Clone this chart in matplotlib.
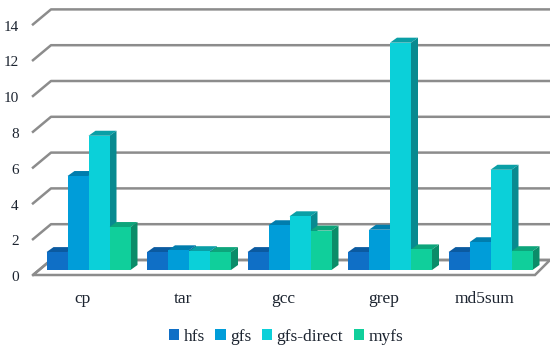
import matplotlib
matplotlib.use('Agg')
import matplotlib.pyplot as plt
from matplotlib.patches import Patch, Polygon

categories = ['cp', 'tar', 'gcc', 'grep', 'md5sum']
hfs = [1, 1, 1, 1, 1]
gfs = [5.25, 1.1, 2.5, 2.25, 1.55]
gfs_direct = [7.5, 1.05, 3.0, 12.7, 5.6]
myfs = [2.4, 1.0, 2.2, 1.15, 1.05]
y_ticks = [0, 2, 4, 6, 8, 10, 12, 14]

series = [('hfs', hfs, '#0F6FC6', '#0B5AA0', '#094A85'),
          ('gfs', gfs, '#009DD9', '#007DAD', '#006A93'),
          ('gfs-direct', gfs_direct, '#0BD0D9', '#0A9FA6', '#088A90'),
          ('myfs', myfs, '#10CF9B', '#0DA57B', '#0B8C69')]

plt.rcParams['font.family'] = ['Liberation Serif', 'DejaVu Serif']
text_color = '#1c2430'
grid_color = '#8c8c8c'

fig = plt.figure(figsize=(5.5, 3.49), dpi=100)
ax = fig.add_axes([0, 0, 1, 1])
# one unit on x is one group (100.5 px), one unit on y is 17.9 px
px_x = 100.5
px_y = 17.9
ax.set_xlim(-88.5 / px_x, (550 - 88.5) / px_x)
ax.set_ylim(-(349 - 270) / px_y, 270 / px_y)
ax.axis('off')

bar_w = 21 / px_x
depth_x = 7 / px_x
depth_y = 5 / px_y
# wall and floor offsets from the bar base line
back_x0 = (51 - 88.5) / px_x
back_x1 = (550 - 88.5) / px_x
front_x0 = (33 - 88.5) / px_x
front_x1 = (535 - 88.5) / px_x
back_dy = 10 / px_y
front_dy = -5 / px_y

# floor
ax.add_patch(Polygon([(front_x0, front_dy), (front_x1, front_dy),
                      (back_x1, back_dy), (back_x0, back_dy)],
                     closed=True, fc='white', ec=grid_color, lw=1.8, zorder=1))
# gridlines on the wall
for v in y_ticks:
    ax.plot([front_x0, back_x0, back_x1],
            [v + front_dy, v + back_dy, v + back_dy],
            color=grid_color, lw=1.8, zorder=1)
    ax.text(-70 / px_x, v + front_dy - 0.15, str(v), ha='right', va='center',
            fontsize=11, color=text_color)

# bars, left to right so that later faces cover earlier sides
for s, (name, values, face, top, side) in enumerate(series):
    for i, v in enumerate(values):
        x0 = i + (s - 2) * bar_w
        x1 = x0 + bar_w
        ax.add_patch(Polygon([(x0, v), (x1, v), (x1 + depth_x, v + depth_y),
                              (x0 + depth_x, v + depth_y)],
                             closed=True, fc=top, ec='none', zorder=2))
        ax.add_patch(Polygon([(x1, 0), (x1 + depth_x, depth_y),
                              (x1 + depth_x, v + depth_y), (x1, v)],
                             closed=True, fc=side, ec='none', zorder=2))
        ax.bar(x0, v, width=bar_w, align='edge', color=face, zorder=2)

for i, name in enumerate(categories):
    ax.text(i - 6 / px_x, -29 / px_y, name, ha='center', va='center',
            fontsize=12.5, color=text_color)

handles = [Patch(fc=s[2], ec='none', label=s[0]) for s in series]
ax.legend(handles=handles, ncol=4, frameon=False, fontsize=12.5,
          loc='center', bbox_to_anchor=(286 / 550, 1 - 337 / 349),
          handlelength=0.6, handleheight=0.6, handletextpad=0.25,
          columnspacing=0.6, labelcolor=text_color)

fig.savefig('out.png', dpi=100)
